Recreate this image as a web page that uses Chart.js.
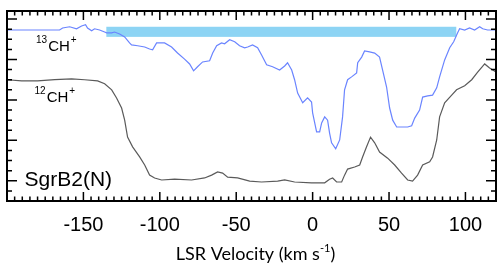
<!DOCTYPE html>
<html>
<head>
<meta charset="utf-8">
<script src="https://cdn.jsdelivr.net/npm/chart.js@4"></script>
<style>
  html, body { margin: 0; padding: 0; background: #fff; }
  canvas { display: block; }
</style>
</head>
<body>
<canvas id="spec" width="503" height="268"></canvas>
<script>
// velocity axis (km/s) and line-to-continuum traces, offset vertically
const velocity13 = [-200,-165.6,-163.6,-159.0,-154.5,-151.2,-148.6,-147.3,-144.6,-142.7,
  -139.4,-136.1,-134.8,-131.5,-129.6,-126.3,-123.0,-119.8,-118.5,-114.5,
  -109.9,-106.7,-104.7,-102.1,-96.9,-92.3,-88.4,-83.8,-80.5,-77.9,
  -75.3,-72.0,-67.4,-65.4,-62.8,-59.6,-57.6,-54.3,-51.0,-47.8,
  -44.5,-42.5,-39.3,-36.0,-33.4,-30.1,-26.2,-21.6,-18.3,-16.4,
  -13.7,-11.8,-9.8,-6.5,-3.3,-0.7,0,2.6,4.6,5.9,
  7.9,9.8,11.1,12.4,15.1,17.7,19.6,20.9,22.9,25.5,
  28.8,29.5,32.1,34.0,37.3,40.6,43.8,45.8,48.4,50.4,
  52.4,55.0,58.2,62.2,64.8,66.8,70.0,72.0,75.3,78.5,
  81.2,83.1,86.4,89.7,92.3,94.9,96.2,99.5,102.7,106.0,
  109.3,111.3,114.5,120];
const flux13 = [3.73,3.73,3.78,3.81,3.76,3.83,3.86,3.78,3.71,3.76,
  3.73,3.68,3.66,3.66,3.68,3.63,3.56,3.41,3.36,3.34,
  3.31,3.26,3.24,3.41,3.41,3.31,3.16,3.01,2.89,2.72,
  2.82,2.94,2.97,3.16,3.34,3.41,3.39,3.49,3.44,3.34,
  3.29,3.31,3.36,3.29,3.11,2.87,2.82,2.74,2.84,2.92,
  2.74,2.50,2.17,1.93,2.05,1.95,1.68,1.21,1.21,1.43,
  1.58,1.50,1.18,0.94,0.79,1.01,1.58,2.25,2.50,2.57,
  2.67,2.92,3.06,3.21,3.19,3.16,3.06,2.74,2.32,1.80,
  1.50,1.33,1.33,1.33,1.36,1.55,1.75,2.07,2.10,2.12,
  2.30,2.57,2.99,3.29,3.44,3.66,3.76,3.73,3.78,3.73,
  3.81,3.76,3.73,3.73];

const velocity12 = [-200,-190.4,-180,-168.8,-157.7,-149.2,-140.7,-136.1,-131.5,-128.3,
  -125,-123,-121.1,-117.8,-113.2,-109.9,-106.7,-103.4,-98.8,-90.3,
  -79.2,-70.7,-66.1,-62.2,-58.9,-55.6,-49.1,-41.2,-33.4,-22.9,
  -18.3,-11.8,-0.7,7.9,11.1,13.1,15.7,19.0,20.9,22.9,
  27.5,30.8,32.7,35.3,37.9,40.6,43.8,49.1,53.7,58.2,
  62.2,65.4,68.7,72.0,76.6,78.5,81.2,83.1,86.4,91.0,
  94.2,99.5,104.1,108.0,112.6,115.8,120];
const flux12 = [2.50,2.47,2.47,2.50,2.52,2.50,2.47,2.40,2.25,2.05,
  1.80,1.50,1.08,0.84,0.59,0.39,0.14,0.07,0.02,0.04,
  0.02,0.07,0.14,0.22,0.19,0.09,0.07,-0.01,-0.03,-0.01,
  0.02,-0.03,-0.05,-0.05,0.04,0.07,-0.03,-0.03,0.14,0.29,
  0.34,0.39,0.59,0.84,1.08,0.94,0.71,0.56,0.39,0.19,
  0.02,-0.01,0.14,0.39,0.47,0.59,1.01,1.58,1.93,2.12,
  2.25,2.35,2.50,2.69,2.89,2.79,2.69];

// shaded velocity range and its vertical extent
const bandVelocity = [-135, 94];
const bandLevel = [3.56, 3.81];

const xTickLabels = [-150, -100, -50, 0, 50, 100];
const xMajor = [-200, -150, -100, -50, 0, 50, 100];
const yMajor = [0, 1, 2, 3, 4];

const toPoints = (xs, ys) => xs.map((x, i) => ({ x: x, y: ys[i] }));
const SANS = '"Liberation Sans", Arial, sans-serif';

const frame = {
  id: 'frame',
  beforeDatasetsDraw(chart) {
    const { ctx, scales: { x, y } } = chart;
    ctx.save();
    ctx.fillStyle = '#8dd4f4';
    const x0 = x.getPixelForValue(bandVelocity[0]);
    const x1 = x.getPixelForValue(bandVelocity[1]);
    const y0 = y.getPixelForValue(bandLevel[1]);
    const y1 = y.getPixelForValue(bandLevel[0]);
    ctx.fillRect(x0, y0, x1 - x0, y1 - y0);
    ctx.restore();
  },
  afterDraw(chart) {
    const { ctx, chartArea: a, scales: { x, y } } = chart;
    ctx.save();
    ctx.strokeStyle = '#000';
    ctx.lineWidth = 1.5;
    ctx.beginPath();
    // x ticks, top and bottom, every 5 km/s
    for (let v = -200; v <= 120; v += 5) {
      const px = x.getPixelForValue(v);
      const len = xMajor.includes(v) ? 9 : 4.5;
      ctx.moveTo(px, a.bottom); ctx.lineTo(px, a.bottom - len);
      ctx.moveTo(px, a.top); ctx.lineTo(px, a.top + len);
    }
    // y ticks, left and right
    for (let v = -0.25; v <= 4.2; v += 0.25) {
      const py = y.getPixelForValue(v);
      const len = yMajor.some(m => Math.abs(m - v) < 1e-6) ? 10 : 5;
      ctx.moveTo(a.left, py); ctx.lineTo(a.left + len, py);
      ctx.moveTo(a.right, py); ctx.lineTo(a.right - len, py);
    }
    ctx.stroke();
    ctx.lineWidth = 2;
    ctx.strokeRect(a.left, a.top, a.right - a.left, a.bottom - a.top);

    ctx.fillStyle = '#000';
    // tick labels
    ctx.font = '20px ' + SANS;
    ctx.textAlign = 'center';
    ctx.textBaseline = 'middle';
    xTickLabels.forEach(v => ctx.fillText(String(v), x.getPixelForValue(v), a.bottom + 24));

    // axis title with superscript
    ctx.textBaseline = 'alphabetic';
    ctx.textAlign = 'left';
    const t1 = 'LSR Velocity (km s', sup = '-1', t2 = ')';
    ctx.font = '18px Lato, sans-serif';
    const w1 = ctx.measureText(t1).width, w3 = ctx.measureText(t2).width;
    ctx.font = '11px Lato, sans-serif';
    const w2 = ctx.measureText(sup).width;
    let tx = (a.left + a.right) / 2 - (w1 + w2 + w3) / 2 + 4;
    const ty = a.bottom + 59;
    ctx.font = '18px Lato, sans-serif';
    ctx.fillText(t1, tx, ty);
    ctx.font = '11px Lato, sans-serif';
    ctx.fillText(sup, tx + w1, ty - 8);
    ctx.font = '18px Lato, sans-serif';
    ctx.fillText(t2, tx + w1 + w2, ty);

    // line labels
    function isoLabel(v, lvl, mass) {
      let px = x.getPixelForValue(v);
      const py = y.getPixelForValue(lvl);
      ctx.font = '10px ' + SANS;
      ctx.fillText(mass, px, py - 8);
      px += ctx.measureText(mass).width + 1;
      ctx.font = '15px ' + SANS;
      ctx.fillText('CH', px, py);
      px += ctx.measureText('CH').width + 1;
      ctx.font = '10px ' + SANS;
      ctx.fillText('+', px, py - 8);
    }
    isoLabel(-181, 3.22, '13');
    isoLabel(-182, 1.95, '12');
    ctx.font = '21px ' + SANS;
    ctx.fillText('SgrB2(N)', x.getPixelForValue(-188.5), y.getPixelForValue(-0.13));
    ctx.restore();
  }
};

new Chart(document.getElementById('spec'), {
  type: 'line',
  data: {
    datasets: [
      {
        label: '13CH+',
        data: toPoints(velocity13, flux13),
        borderColor: '#6a84ff',
        borderWidth: 1.2,
        pointRadius: 0,
        tension: 0
      },
      {
        label: '12CH+',
        data: toPoints(velocity12, flux12),
        borderColor: '#5a5a5a',
        borderWidth: 1.2,
        pointRadius: 0,
        tension: 0
      }
    ]
  },
  options: {
    responsive: false,
    animation: false,
    devicePixelRatio: 1,
    layout: { padding: { left: 7, right: 7, top: 11, bottom: 67 } },
    plugins: { legend: { display: false }, tooltip: { enabled: false } },
    scales: {
      x: { type: 'linear', min: -200, max: 120, display: false },
      y: { type: 'linear', min: -0.5, max: 4.2, display: false }
    }
  },
  plugins: [frame]
});
</script>
</body>
</html>
